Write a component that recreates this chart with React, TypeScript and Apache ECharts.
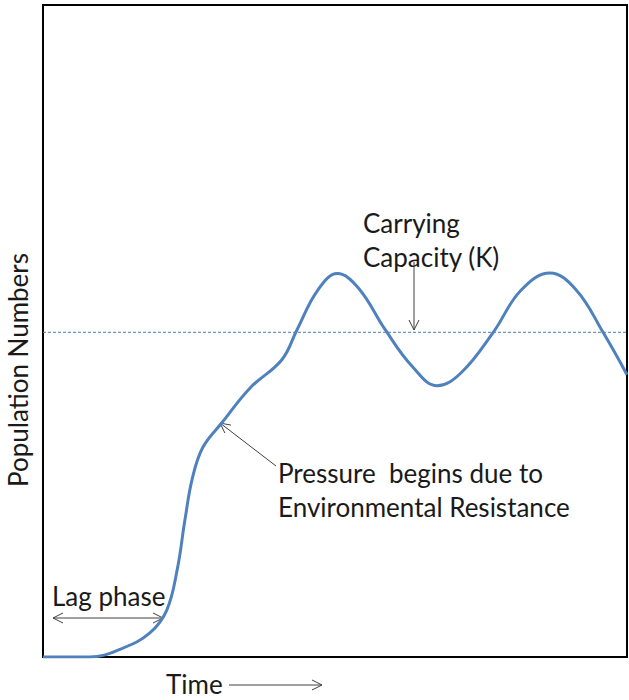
import React, { useEffect, useRef } from "react";
import * as echarts from "echarts";

// Time (0-100) vs population (0-100)
const timeValues = [0, 8.0, 13.5, 18.3, 21.2, 23.0, 24.3, 25.6, 27.4, 30.7, 35.5, 40.9, 43.5, 47.0, 50.4, 54.0, 58.6, 63.2, 67.5, 71.6, 77.1, 81.8, 86.8, 91.3, 95.9, 100];
const populationValues = [0, 0, 1.3, 3.7, 7.2, 13.5, 21.0, 27.5, 32.2, 36.0, 41.3, 45.6, 50.2, 56.2, 58.8, 56.6, 50.2, 44.6, 41.6, 43.6, 49.8, 56.2, 58.9, 56.3, 49.8, 43.3];
const carryingCapacity = 49.8;
const labels = {
  yAxis: "Population Numbers",
  xAxis: "Time",
  capacity: ["Carrying", "Capacity (K)"],
  pressure: ["Pressure  begins due to", "Environmental Resistance"],
  lag: "Lag phase",
};

const FONT = "Lato, 'Open Sans', sans-serif";
const TEXT_COLOR = "#1a1a1a";
const ARROW_COLOR = "#404040";

function arrow(x1: number, y1: number, x2: number, y2: number, both = false) {
  const els: any[] = [];
  els.push({
    type: "line",
    shape: { x1, y1, x2, y2 },
    style: { stroke: ARROW_COLOR, lineWidth: 1 },
  });
  const head = (tx: number, ty: number, fx: number, fy: number) => {
    const dx = tx - fx, dy = ty - fy;
    const len = Math.sqrt(dx * dx + dy * dy);
    const ux = dx / len, uy = dy / len;
    const bx = tx - ux * 10, by = ty - uy * 10;
    const px = -uy * 5, py = ux * 5;
    return {
      type: "polyline",
      shape: { points: [[bx + px, by + py], [tx, ty], [bx - px, by - py]] },
      style: { stroke: ARROW_COLOR, lineWidth: 1, fill: null },
    };
  };
  els.push(head(x2, y2, x1, y1));
  if (both) els.push(head(x1, y1, x2, y2));
  return els;
}

function txt(x: number, y: number, text: string, extra: any = {}) {
  return {
    type: "text",
    x,
    y,
    ...extra,
    style: {
      text,
      fill: TEXT_COLOR,
      font: `26px ${FONT}`,
      textVerticalAlign: "middle",
      textAlign: "left",
      ...(extra.style || {}),
    },
  };
}

export default function App() {
  const ref = useRef<HTMLDivElement>(null);
  useEffect(() => {
    document.body.style.margin = "0";
    if (!ref.current) return;
    const chart = echarts.init(ref.current, undefined, { renderer: "svg" });
    const curve = timeValues.map((t, i) => [t, populationValues[i]]);
    chart.setOption({
      animation: false,
      backgroundColor: "#ffffff",
      grid: {
        left: 43,
        right: 2,
        top: 5,
        bottom: 43,
        show: true,
        borderColor: "#000",
        borderWidth: 2,
        backgroundColor: "transparent",
      },
      xAxis: {
        type: "value",
        min: 0,
        max: 100,
        axisLine: { show: false },
        axisTick: { show: false },
        axisLabel: { show: false },
        splitLine: { show: false },
      },
      yAxis: {
        type: "value",
        min: 0,
        max: 100,
        axisLine: { show: false },
        axisTick: { show: false },
        axisLabel: { show: false },
        splitLine: { show: false },
      },
      series: [
        {
          type: "line",
          data: [[0, carryingCapacity], [100, carryingCapacity]],
          symbol: "none",
          lineStyle: { color: "#4a7ebb", width: 1, type: [3, 2] },
          silent: true,
        },
        {
          type: "line",
          data: curve,
          smooth: 0.4,
          symbol: "none",
          lineStyle: { color: "#4f81bd", width: 3 },
          silent: true,
        },
      ],
      graphic: [
        txt(363, 223, labels.capacity[0]),
        txt(363, 257, labels.capacity[1]),
        ...arrow(414, 262, 414, 330),
        txt(278, 473, labels.pressure[0]),
        txt(278, 507, labels.pressure[1]),
        ...arrow(276, 466, 220, 423),
        txt(52, 596, labels.lag),
        ...arrow(53, 618, 163, 618, true),
        txt(166, 684, labels.xAxis),
        ...arrow(229, 685, 322, 685),
        txt(18, 370, labels.yAxis, {
          rotation: Math.PI / 2,
          style: { textAlign: "center" },
        }),
      ],
    });
    return () => chart.dispose();
  }, []);
  return <div ref={ref} style={{ width: 629, height: 700 }} />;
}
